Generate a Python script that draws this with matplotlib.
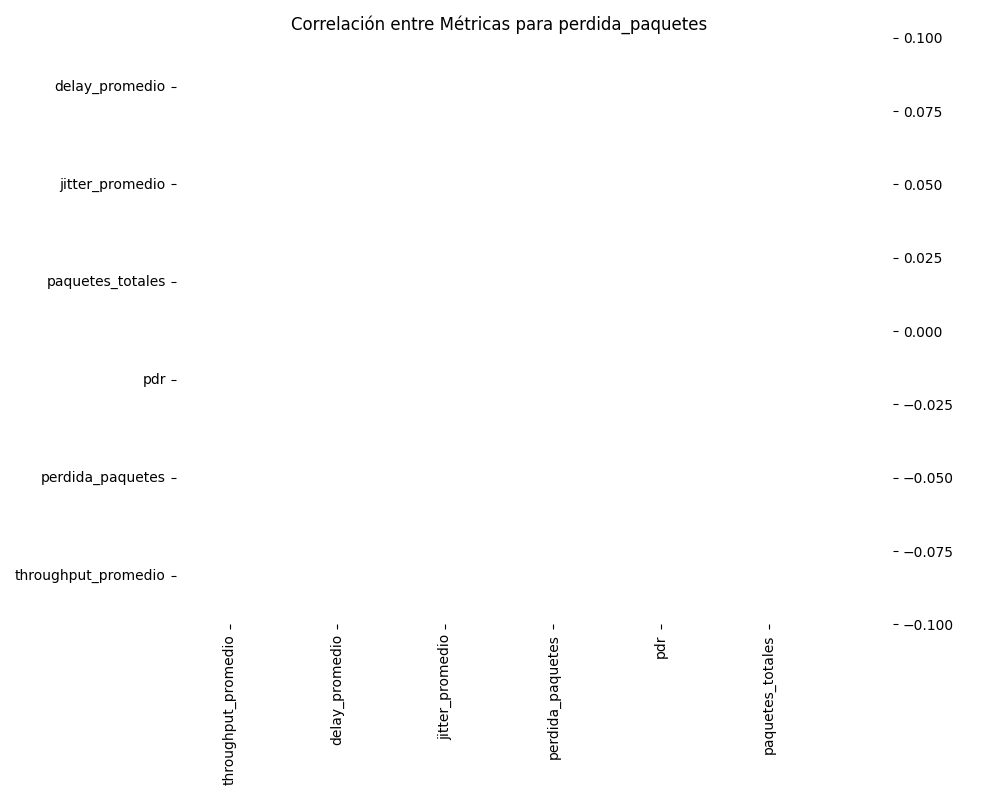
import numpy as np
import matplotlib
matplotlib.use("Agg")
import matplotlib.pyplot as plt
import seaborn as sns

row_labels = ["delay_promedio", "jitter_promedio", "paquetes_totales", "pdr",
              "perdida_paquetes", "throughput_promedio"]
col_labels = ["throughput_promedio", "delay_promedio", "jitter_promedio",
              "perdida_paquetes", "pdr", "paquetes_totales"]
corr_values = np.full((len(row_labels), len(col_labels)), np.nan)

fig, ax = plt.subplots(figsize=(10, 8), dpi=100)
sns.heatmap(corr_values, annot=True, cmap="coolwarm", center=0, fmt=".2f",
            xticklabels=col_labels, yticklabels=row_labels, ax=ax)
ax.set_title("Correlación entre Métricas para perdida_paquetes")
plt.setp(ax.get_xticklabels(), rotation=90)
plt.setp(ax.get_yticklabels(), rotation=0)
plt.tight_layout()
fig.savefig("out.png")
